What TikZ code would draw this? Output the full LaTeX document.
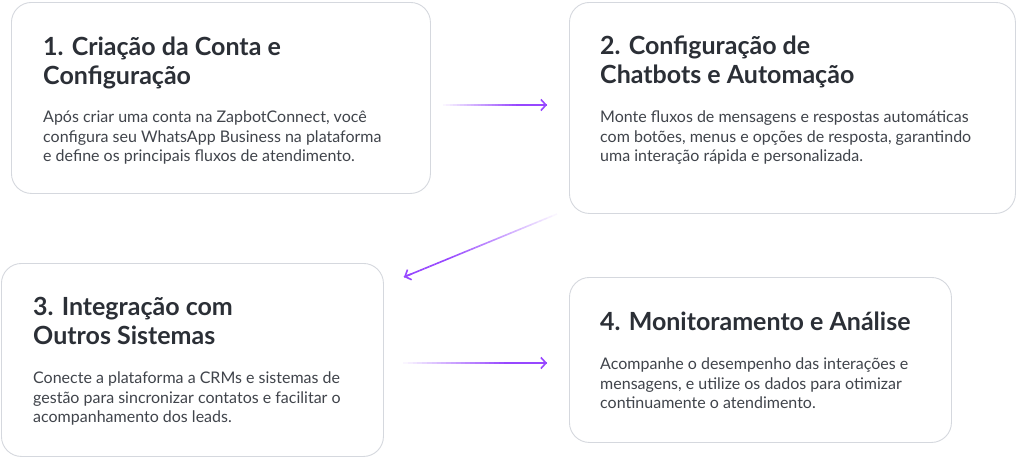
\documentclass[tikz,border=0pt]{standalone}
\usepackage{fontspec}
\setmainfont{Lato}
\usetikzlibrary{arrows.meta, calc, positioning}

\definecolor{edgegray}{HTML}{D5D8DE}
\definecolor{titleink}{HTML}{2B2F36}
\definecolor{bodyink}{HTML}{40444B}
\definecolor{flowpurple}{HTML}{9747FF}

\tikzset{
  card/.style={draw=edgegray, line width=0.9pt, rounded corners=20pt, fill=white, anchor=north west, inner sep=0pt},
  heading/.style={anchor=north west, align=left, inner sep=0pt, text=titleink, font=\fontsize{25}{29}\selectfont\bfseries},
  blurb/.style={anchor=north west, align=left, inner sep=0pt, text=bodyink, font=\fontsize{16}{19.5}\selectfont},
  flow/.style={flowpurple, line width=1.6pt},
  flowtip/.style={flowpurple, line width=1.6pt, line cap=round, -{Straight Barb[length=5pt,width=11pt]}}
}

\begin{document}
\begin{tikzpicture}[x=1pt, y=-1pt]
\useasboundingbox (0,0) rectangle (1016,458);

% cards
\node (conta) [card, minimum width=419pt, minimum height=191pt] at (11,2) {};
\node (chatbots) [card, minimum width=446pt, minimum height=211pt] at (569,2) {};
\node (integracao) [card, minimum width=382pt, minimum height=193pt] at (1,263) {};
\node (monitor) [card, minimum width=382pt, minimum height=165pt] at (569,277) {};

% texts
\node (contaT) [heading] at ($(conta.north west)+(32,35)$) {1. Criação da Conta e\\Configuração};
\node (contaB) [blurb] at ($(conta.north west)+(32,109)$) {Após criar uma conta na ZapbotConnect, você\\configura seu WhatsApp Business na plataforma\\e define os principais fluxos de atendimento.};

\node (chatbotsT) [heading] at ($(chatbots.north west)+(31,34)$) {2. Configuração de\\Chatbots e Automação};
\node (chatbotsB) [blurb] at ($(chatbots.north west)+(31,109)$) {Monte fluxos de mensagens e respostas automáticas\\com botões, menus e opções de resposta, garantindo\\uma interação rápida e personalizada.};

\node (integracaoT) [heading] at ($(integracao.north west)+(32,34)$) {3. Integração com\\Outros Sistemas};
\node (integracaoB) [blurb] at ($(integracao.north west)+(32,109)$) {Conecte a plataforma a CRMs e sistemas de\\gestão para sincronizar contatos e facilitar o\\acompanhamento dos leads.};

\node (monitorT) [heading] at ($(monitor.north west)+(31,35)$) {4. Monitoramento e Análise};
\node (monitorB) [blurb] at ($(monitor.north west)+(31,81)$) {Acompanhe o desempenho das interações e\\mensagens, e utilize os dados para otimizar\\continuamente o atendimento.};

% arrow ends
\coordinate (f1s) at (443,105);
\coordinate (f1e) at (547,105);
\coordinate (f2s) at (557,214);
\coordinate (f2e) at (404,277);
\coordinate (f3s) at (403,363);
\coordinate (f3e) at (547,363);

% fading arrows
\foreach \s/\e in {f1s/f1e, f2s/f2e, f3s/f3e} {
  \foreach \i in {0,...,29} {
    \pgfmathsetmacro\op{min(1,(\i+1)/22)}
    \draw [flow, draw opacity=\op] ($(\s)!{\i/30}!(\e)$) -- ($(\s)!{(\i+1)/30}!(\e)$);
  }
  \draw [flowtip] ($(\s)!0.95!(\e)$) -- (\e);
}

\end{tikzpicture}
\end{document}
